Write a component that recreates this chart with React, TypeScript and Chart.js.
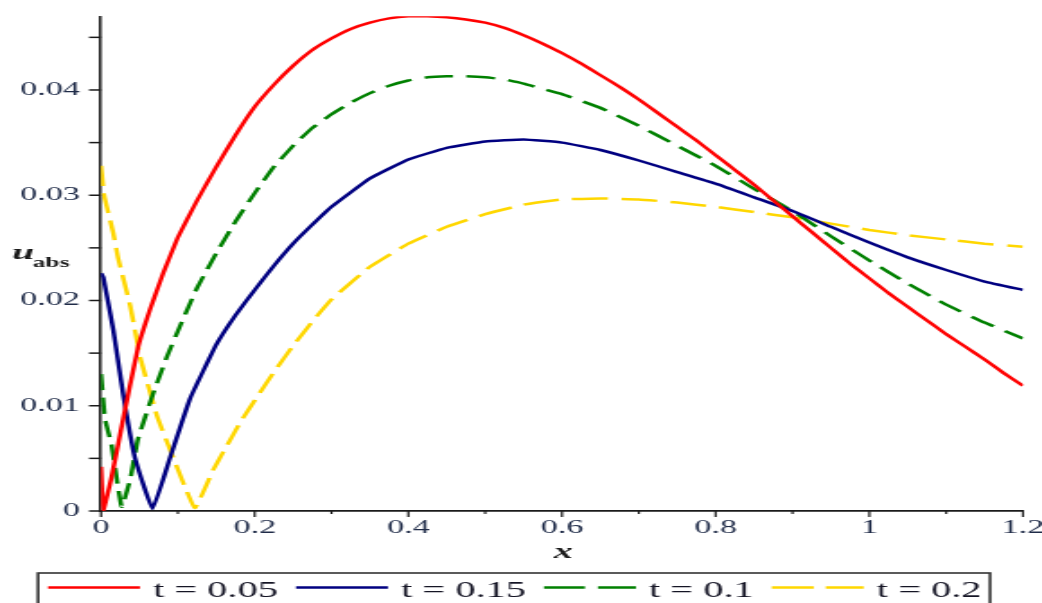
import React, { useEffect, useRef } from 'react';
import { Chart, registerables } from 'chart.js';

Chart.register(...registerables);

// ---------------- data ----------------
const seriesLabels = ['t = 0.05', 't = 0.15', 't = 0.1', 't = 0.2'];

const xT005 = [0, 0.003, 0.014, 0.029, 0.048, 0.064, 0.081, 0.1, 0.125, 0.15, 0.175, 0.2, 0.225, 0.25, 0.275, 0.3, 0.325, 0.35, 0.375, 0.4, 0.425, 0.45, 0.475, 0.5, 0.525, 0.55, 0.575, 0.6, 0.625, 0.65, 0.675, 0.7, 0.725, 0.75, 0.775, 0.8, 0.825, 0.85, 0.875, 0.9, 0.925, 0.95, 0.975, 1.0, 1.025, 1.05, 1.075, 1.1, 1.125, 1.15, 1.175, 1.2];
const yT005 = [0.0042, 0.0001, 0.0033, 0.0088, 0.0155, 0.0192, 0.0226, 0.026, 0.0295, 0.0327, 0.0357, 0.0384, 0.0405, 0.0423, 0.0438, 0.0449, 0.0458, 0.0464, 0.0468, 0.047, 0.047, 0.0469, 0.0467, 0.0464, 0.0459, 0.0452, 0.0444, 0.0435, 0.0425, 0.0414, 0.0403, 0.0391, 0.0378, 0.0365, 0.0352, 0.0338, 0.0324, 0.031, 0.0295, 0.028, 0.0265, 0.025, 0.0235, 0.0221, 0.0207, 0.0194, 0.0181, 0.0168, 0.0156, 0.0144, 0.0131, 0.0119];

const xT015 = [0, 0.003, 0.016, 0.029, 0.044, 0.067, 0.09, 0.116, 0.15, 0.175, 0.2, 0.225, 0.25, 0.275, 0.3, 0.35, 0.4, 0.45, 0.5, 0.55, 0.6, 0.65, 0.7, 0.75, 0.8, 0.85, 0.9, 0.95, 1.0, 1.05, 1.1, 1.15, 1.2];
const yT015 = [0.0226, 0.0222, 0.0172, 0.011, 0.0051, 0.0002, 0.0051, 0.0107, 0.0158, 0.0186, 0.021, 0.0233, 0.0254, 0.0272, 0.0289, 0.0316, 0.0334, 0.0345, 0.0351, 0.0353, 0.035, 0.0343, 0.0333, 0.0322, 0.0311, 0.0298, 0.0285, 0.027, 0.0255, 0.0241, 0.0229, 0.0218, 0.021];

const xT01 = [0, 0.005, 0.014, 0.021, 0.027, 0.038, 0.048, 0.068, 0.086, 0.103, 0.125, 0.15, 0.175, 0.2, 0.225, 0.25, 0.275, 0.3, 0.325, 0.35, 0.375, 0.4, 0.425, 0.45, 0.475, 0.5, 0.525, 0.55, 0.575, 0.6, 0.65, 0.7, 0.75, 0.8, 0.85, 0.9, 0.95, 1.0, 1.05, 1.1, 1.15, 1.2];
const yT01 = [0.013, 0.0088, 0.0062, 0.0028, 0.0004, 0.003, 0.0068, 0.0112, 0.0147, 0.0176, 0.0212, 0.0245, 0.0275, 0.0302, 0.0327, 0.0347, 0.0364, 0.0377, 0.0388, 0.0397, 0.0404, 0.0409, 0.0412, 0.0413, 0.0413, 0.0412, 0.041, 0.0406, 0.0401, 0.0396, 0.0383, 0.0366, 0.0347, 0.0328, 0.0306, 0.0285, 0.0261, 0.0238, 0.0216, 0.0196, 0.0179, 0.0164];

const xT02 = [0, 0.004, 0.016, 0.022, 0.038, 0.051, 0.073, 0.09, 0.122, 0.146, 0.181, 0.2, 0.225, 0.25, 0.275, 0.3, 0.35, 0.4, 0.45, 0.5, 0.55, 0.6, 0.65, 0.7, 0.75, 0.8, 0.85, 0.9, 0.95, 1.0, 1.05, 1.1, 1.15, 1.2];
const yT02 = [0.0328, 0.03, 0.0264, 0.0241, 0.0195, 0.0146, 0.009, 0.0058, 0.0003, 0.0039, 0.0084, 0.0105, 0.0132, 0.0157, 0.018, 0.0201, 0.0232, 0.0254, 0.027, 0.0282, 0.0291, 0.0296, 0.0297, 0.0296, 0.0293, 0.0289, 0.0284, 0.0279, 0.0273, 0.0267, 0.0262, 0.0258, 0.0254, 0.0251];

const xTickLabels = ['0', '0.2', '0.4', '0.6', '0.8', '1', '1.2'];
const yTickLabels = ['0', '0.01', '0.02', '0.03', '0.04'];

// ---------------- geometry / style ----------------
const CANVAS_W = 580;
const CANVAS_H = 603;
const VIEW_W = 1042;
const SX = VIEW_W / CANVAS_W;
const ix = (d: number) => d / SX; // display px -> internal px
const SERIF = '"Liberation Serif", "Times New Roman", serif';

const pts = (xs: number[], ys: number[]) => xs.map((x, i) => ({ x, y: ys[i] }));

const decorPlugin = {
  id: 'decor',
  beforeDatasetsDraw(chart: any) {
    const { ctx, chartArea } = chart;
    const xs = chart.scales.x;
    const ys = chart.scales.y;
    ctx.save();
    ctx.strokeStyle = '#1a1a1a';
    ctx.lineWidth = 1.5;
    ys.ticks.forEach((t: any) => {
      const y = ys.getPixelForValue(t.value);
      ctx.beginPath();
      ctx.moveTo(chartArea.left - ix(12), y);
      ctx.lineTo(chartArea.left, y);
      ctx.stroke();
    });
    ctx.lineWidth = 1.2;
    xs.ticks.forEach((t: any) => {
      const x = xs.getPixelForValue(t.value);
      const major = xTickLabels.includes(String(Math.round(t.value * 10) / 10));
      ctx.beginPath();
      ctx.moveTo(x, chartArea.bottom);
      ctx.lineTo(x, chartArea.bottom + (major ? 6 : 3));
      ctx.stroke();
    });
    ctx.restore();
  },
  afterDraw(chart: any) {
    const { ctx } = chart;
    ctx.save();
    // axis titles
    ctx.fillStyle = '#1a1a1a';
    ctx.textAlign = 'left';
    ctx.textBaseline = 'alphabetic';
    ctx.font = `bold italic 22px ${SERIF}`;
    ctx.fillText('u', ix(12), 259);
    ctx.font = `bold 14px ${SERIF}`;
    ctx.fillText('abs', ix(33), 267);
    ctx.font = `bold italic 21px ${SERIF}`;
    ctx.textAlign = 'center';
    ctx.fillText('x', ix(563), 558);

    // legend
    ctx.strokeStyle = '#333';
    ctx.lineWidth = 1.6;
    ctx.strokeRect(ix(38), 573, ix(990) - ix(38), 40);
    ctx.font = `22.5px ${SERIF}`;
    ctx.textAlign = 'left';
    const rowY = 587.5;
    let x = ix(48);
    chart.data.datasets.forEach((ds: any) => {
      ctx.save();
      ctx.strokeStyle = ds.borderColor;
      ctx.lineWidth = 2.4;
      ctx.setLineDash(ds.legendDash || []);
      ctx.beginPath();
      ctx.moveTo(x, rowY);
      ctx.lineTo(x + ix(92), rowY);
      ctx.stroke();
      ctx.restore();
      const tx = x + ix(92) + ix(13);
      ctx.fillStyle = '#141424';
      ctx.fillText(ds.label, tx, 597);
      x = tx + ctx.measureText(ds.label).width + ix(18);
    });
    ctx.restore();
  },
};

export default function App() {
  const ref = useRef<HTMLCanvasElement | null>(null);

  useEffect(() => {
    if (!ref.current) return;
    const tickColor = '#1f2b48';
    const chart = new Chart(ref.current, {
      type: 'line',
      data: {
        datasets: [
          { label: seriesLabels[0], data: pts(xT005, yT005), borderColor: '#ff0000', borderWidth: 2.5, legendDash: [] } as any,
          { label: seriesLabels[1], data: pts(xT015, yT015), borderColor: '#000080', borderWidth: 2.5, legendDash: [] } as any,
          { label: seriesLabels[2], data: pts(xT01, yT01), borderColor: '#008000', borderWidth: 2.5, borderDash: [16, 7.5], legendDash: [ix(41), ix(13)] } as any,
          { label: seriesLabels[3], data: pts(xT02, yT02), borderColor: '#ffd700', borderWidth: 2.5, borderDash: [20, 7.5], legendDash: [ix(42), ix(12)] } as any,
        ],
      },
      options: {
        animation: false,
        responsive: false,
        devicePixelRatio: 1,
        layout: { padding: { left: 0, right: CANVAS_W - ix(1023), top: 16.3, bottom: 0 } },
        plugins: { legend: { display: false }, tooltip: { enabled: false } },
        elements: {
          point: { radius: 0 },
          line: { tension: 0.1, borderJoinStyle: 'round', fill: false },
        },
        scales: {
          x: {
            type: 'linear',
            min: 0,
            max: 1.2,
            afterFit: (s: any) => { s.height = 92; s.paddingLeft = 0; s.paddingRight = 0; },
            grid: { display: false, drawTicks: false },
            border: { display: true, color: '#1a1a1a', width: 1.8 },
            ticks: {
              stepSize: 0.1,
              autoSkip: false,
              maxRotation: 0,
              padding: 8,
              color: tickColor,
              font: { family: SERIF, size: 19, lineHeight: 1 },
              callback: (v: any) => {
                const s = String(Math.round(Number(v) * 10) / 10);
                return xTickLabels.includes(s) ? s : '';
              },
            },
          },
          y: {
            type: 'linear',
            min: 0,
            max: 0.047,
            afterFit: (s: any) => { s.width = ix(101); s.paddingTop = 0; s.paddingBottom = 0; },
            grid: { display: false, drawTicks: false },
            border: { display: true, color: '#1a1a1a', width: 1.5 },
            ticks: {
              stepSize: 0.005,
              includeBounds: false,
              autoSkip: false,
              padding: ix(101) - ix(80),
              color: tickColor,
              font: { family: SERIF, size: 19, lineHeight: 1 },
              callback: (v: any) => {
                const s = String(Math.round(Number(v) * 1000) / 1000);
                return yTickLabels.includes(s) ? s : '';
              },
            },
          },
        },
      } as any,
      plugins: [decorPlugin],
    });
    return () => chart.destroy();
  }, []);

  return (
    <div style={{ position: 'fixed', left: 0, top: 0, width: VIEW_W, height: CANVAS_H, background: '#fff' }}>
      <canvas
        ref={ref}
        width={CANVAS_W}
        height={CANVAS_H}
        style={{ width: `${VIEW_W}px`, height: `${CANVAS_H}px`, display: 'block' }}
      />
    </div>
  );
}
